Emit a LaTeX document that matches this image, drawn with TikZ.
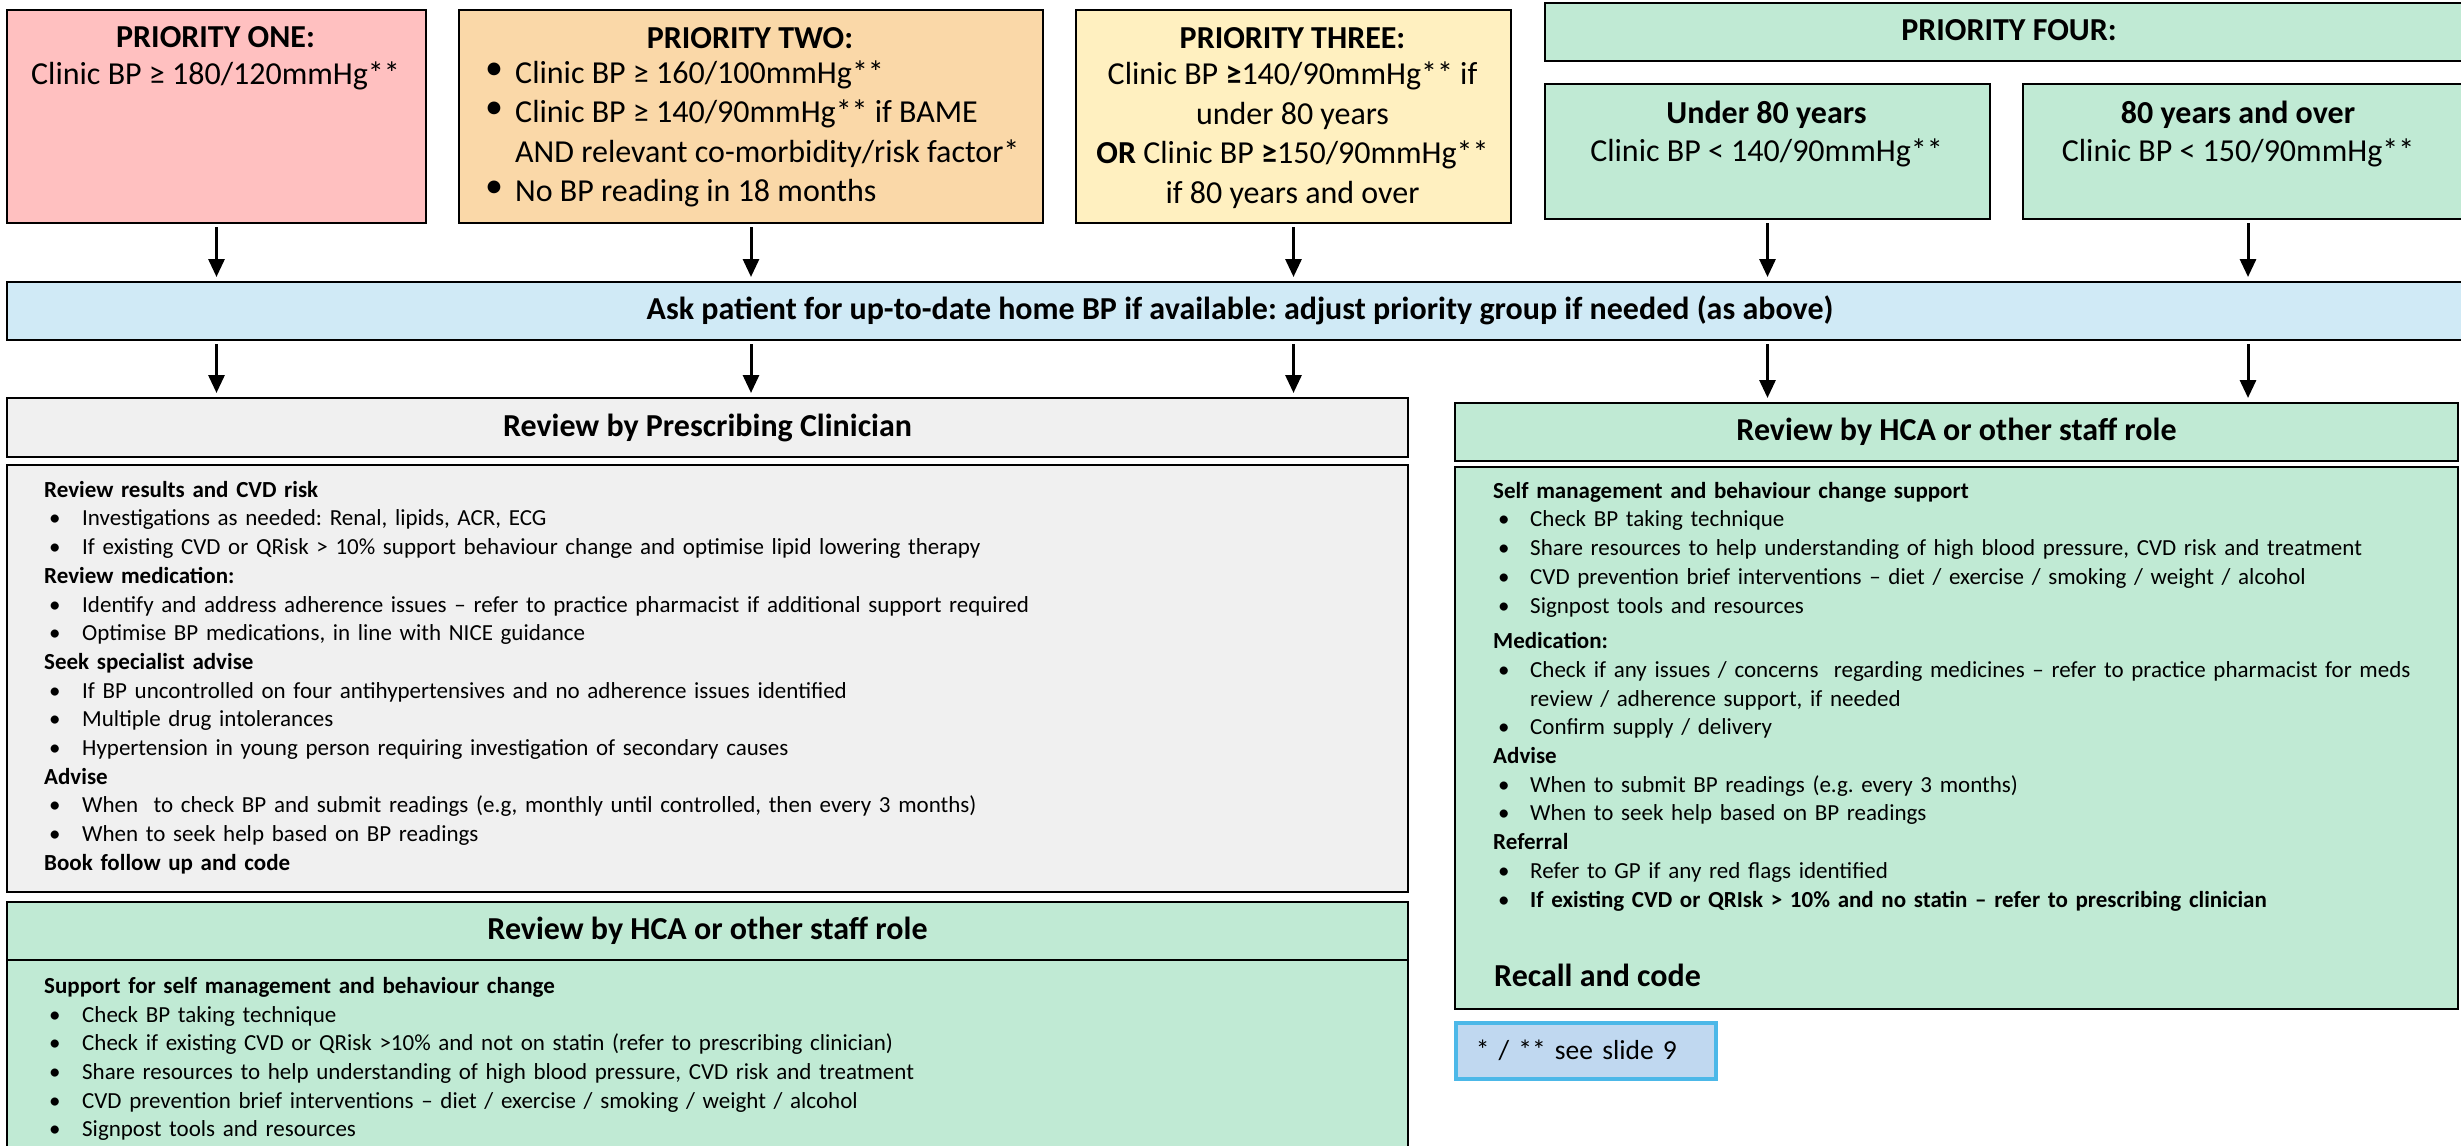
\documentclass[tikz,border=0pt]{standalone}
\usepackage{fontspec}
\setmainfont{Carlito}
\usetikzlibrary{arrows.meta,calc}
\frenchspacing

\definecolor{pone}{RGB}{255,192,192}
\definecolor{ptwo}{RGB}{250,216,168}
\definecolor{pthree}{RGB}{255,240,192}
\definecolor{pgreen}{RGB}{192,234,212}
\definecolor{pblue}{RGB}{208,234,246}
\definecolor{pgrey}{RGB}{240,240,240}
\definecolor{notefill}{RGB}{192,216,240}
\definecolor{noteline}{RGB}{76,184,232}

% bullets for the lists
\newcommand\lbul{\makebox[38pt][l]{\hspace*{5pt}•}}
\newcommand\rbul{\makebox[37pt][l]{\hspace*{5pt}•}}
\newcommand\pbul{\makebox[27pt][l]{\hspace*{-3pt}\raisebox{4pt}{\fontsize{36}{39.5}\selectfont •}}}

\tikzset{
  box/.style={draw=black, line width=2pt, rectangle, inner sep=0pt, anchor=north west},
  flow/.style={-{Triangle[width=16pt,length=18pt]}, line width=3pt, shorten <=3pt, shorten >=4pt},
  ptitle/.style={font=\bfseries\fontsize{32}{39.5}\selectfont, inner sep=0pt},
  ptext/.style={font=\fontsize{32}{39.5}\selectfont, inner sep=0pt},
  hdrtext/.style={font=\bfseries\fontsize{32}{39.5}\selectfont, text height=22pt, text depth=5pt},
  body/.style={font=\fontsize{23}{28.7}\selectfont, inner sep=0pt, anchor=north west, align=left, text width=1300pt},
}

\begin{document}
\begin{tikzpicture}[x=1pt,y=-1pt]
\useasboundingbox (0,0) rectangle (2461,1146);

% ---- priority groups ----
\node[box, fill=pone,   minimum width=419pt, minimum height=213pt] (p1) at (6,9) {};
\node[box, fill=ptwo,   minimum width=584pt, minimum height=213pt] (p2) at (458,9) {};
\node[box, fill=pthree, minimum width=435pt, minimum height=213pt] (p3) at (1075,9) {};
\node[box, fill=pgreen, minimum width=928pt, minimum height=58pt, hdrtext] (p4) at (1544,2) {PRIORITY FOUR:};
\node[box, fill=pgreen, minimum width=445pt, minimum height=135pt] (u80) at (1544,83) {};
\node[box, fill=pgreen, minimum width=450pt, minimum height=135pt] (o80) at (2022,83) {};

\node[ptitle, anchor=base] (p1t) at (215.5,47) {PRIORITY ONE:};
\node[ptext, anchor=base] (p1c) at (215.5,84) {Clinic BP ≥ 180/120mmHg**};

\node[ptitle, anchor=base] (p2t) at (750,48) {PRIORITY TWO:};
\node[ptext, anchor=north west, align=left] (p2c) at (488,55.35)
  {\strut\pbul Clinic BP ≥ 160/100mmHg**\\
   \pbul Clinic BP ≥ 140/90mmHg** if BAME\\
   \hspace*{27pt}AND relevant co-morbidity/risk factor*\\
   \pbul No BP reading in 18 months};

\node[ptitle, anchor=base] (p3t) at (1292.5,48) {PRIORITY THREE:};
\node[ptext, anchor=north, align=center] (p3c) at (1292.5,57)
  {\strut Clinic BP \textbf{≥}140/90mmHg** if\\
   under 80 years\\
   \textbf{OR} Clinic BP \textbf{≥}150/90mmHg**\\
   if 80 years and over};

\node[ptitle, anchor=base] (u80t) at (1766.5,123) {Under 80 years};
\node[ptext, anchor=base] (u80c) at (1766.5,161) {Clinic BP < 140/90mmHg**};
\node[ptitle, anchor=base] (o80t) at (2238,123) {80 years and over};
\node[ptext, anchor=base] (o80c) at (2238,161) {Clinic BP < 150/90mmHg**};

% ---- home BP check ----
\node[box, fill=pblue, minimum width=2466pt, minimum height=58pt, hdrtext] (bar) at (6,281)
  {Ask patient for up-to-date home BP if available: adjust priority group if needed (as above)};

% ---- prescribing clinician review ----
\node[box, fill=pgrey, minimum width=1401pt, minimum height=59pt, hdrtext] (rpc) at (6,397)
  {Review by Prescribing Clinician};
\node[box, fill=pgrey, minimum width=1401pt, minimum height=427pt] (rpcb) at (6,464) {};
\node[body] (rpct) at (44,477)
  {\strut\textbf{Review results and CVD risk}\\
   \lbul Investigations as needed: Renal, lipids, ACR, ECG\\
   \lbul If existing CVD or QRisk > 10\% support behaviour change and optimise lipid lowering therapy\\
   \textbf{Review medication:}\\
   \lbul Identify and address adherence issues – refer to practice pharmacist if additional support required\\
   \lbul Optimise BP medications, in line with NICE guidance\\
   \textbf{Seek specialist advise}\\
   \lbul If BP uncontrolled on four antihypertensives and no adherence issues identified\\
   \lbul Multiple drug intolerances\\
   \lbul Hypertension in young person requiring investigation of secondary causes\\
   \textbf{Advise}\\
   \lbul When\ \ to check BP and submit readings (e.g, monthly until controlled, then every 3 months)\\
   \lbul When to seek help based on BP readings\\
   \textbf{Book follow up and code}};

% ---- HCA review, left column ----
\node[box, fill=pgreen, minimum width=1401pt, minimum height=220pt] (hcalb) at (6,959) {};
\node[box, fill=pgreen, minimum width=1401pt, minimum height=58pt, hdrtext] (hcal) at (6,901)
  {Review by HCA or other staff role};
\node[body] (hcalt) at (44,973)
  {\strut\textbf{Support for self management and behaviour change}\\
   \lbul Check BP taking technique\\
   \lbul Check if existing CVD or QRisk >10\% and not on statin (refer to prescribing clinician)\\
   \lbul Share resources to help understanding of high blood pressure, CVD risk and treatment\\
   \lbul CVD prevention brief interventions – diet / exercise / smoking / weight / alcohol\\
   \lbul Signpost tools and resources};

% ---- HCA review, right column ----
\node[box, fill=pgreen, minimum width=1003pt, minimum height=58pt, hdrtext] (hcar) at (1454,402)
  {Review by HCA or other staff role};
\node[box, fill=pgreen, minimum width=1003pt, minimum height=542pt] (hcarb) at (1454,466) {};
\node[body, text width=950pt] (hcart) at (1493,478)
  {\strut\textbf{Self management and behaviour change support}\\
   \rbul Check BP taking technique\\
   \rbul Share resources to help understanding of high blood pressure, CVD risk and treatment\\
   \rbul CVD prevention brief interventions – diet / exercise / smoking / weight / alcohol\\
   \rbul Signpost tools and resources\\[7pt]
   \textbf{Medication:}\\
   \rbul Check if any issues / concerns\ \ regarding medicines – refer to practice pharmacist for meds\\
   \hspace*{37pt}review / adherence support, if needed\\
   \rbul Confirm supply / delivery\\
   \textbf{Advise}\\
   \rbul When to submit BP readings (e.g. every 3 months)\\
   \rbul When to seek help based on BP readings\\
   \textbf{Referral}\\
   \rbul Refer to GP if any red flags identified\\
   \rbul \textbf{If existing CVD or QRIsk > 10\% and no statin – refer to prescribing clinician}};
\node[ptitle, anchor=base west] (recall) at (1494,986) {Recall and code};

% ---- footnote ----
\node[box, draw=noteline, line width=3.5pt, fill=notefill, minimum width=260pt, minimum height=56pt,
      text width=220pt, inner xsep=20pt, align=left, font=\fontsize{27.5}{33}\selectfont] (note) at (1454,1021)
  {* / ** see slide 9};

% ---- connectors ----
\foreach \src in {p1,p2,p3,u80,o80}
  \draw[flow] (\src.south) -- (\src.south |- bar.north);
\foreach \src in {p1,p2,p3}
  \draw[flow] (bar.south -| \src.south) -- (rpc.north -| \src.south);
\foreach \src in {u80,o80}
  \draw[flow] (bar.south -| \src.south) -- (hcar.north -| \src.south);
\end{tikzpicture}
\end{document}
